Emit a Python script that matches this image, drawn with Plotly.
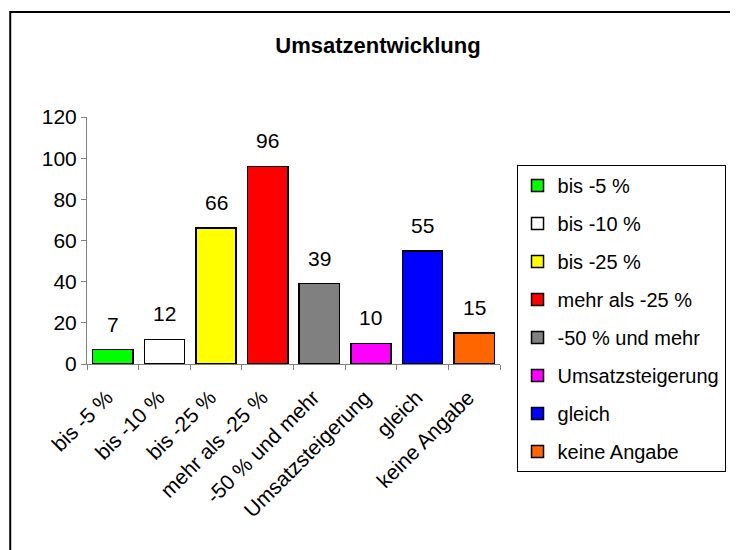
import plotly.graph_objects as go

# Kategorien und Werte (Umsatzentwicklung)
categories = ["bis -5 %", "bis -10 %", "bis -25 %", "mehr als -25 %",
              "-50 % und mehr", "Umsatzsteigerung", "gleich", "keine Angabe"]
values = [7, 12, 66, 96, 39, 10, 55, 15]
colors = ["#00FF00", "#FFFFFF", "#FFFF00", "#FF0000",
          "#808080", "#FF00FF", "#0000FF", "#FF6600"]
y_ticks = [0, 20, 40, 60, 80, 100, 120]

FONT = "Liberation Sans, Arial, sans-serif"

fig = go.Figure()
for i, (cat, val, col) in enumerate(zip(categories, values, colors)):
    fig.add_trace(go.Bar(
        x=[cat], y=[val], name=cat, legendgroup=f"g{i}",
        marker=dict(color=col, line=dict(color="black", width=1.5)),
    ))

# Datenbeschriftungen über den Balken
for cat, val in zip(categories, values):
    fig.add_annotation(x=cat, y=val, text=str(val), showarrow=False,
                       yanchor="bottom", yshift=12,
                       font=dict(size=21, color="black", family=FONT))

# Seite hat 8px Body-Rand -> Figur etwas kleiner, Koordinaten um 8 verschoben
OFF = 8
W, H = 738 - OFF, 550 - OFF
l, t = 87 - OFF, 117 - OFF
plot_right, plot_bottom = 512 - OFF, 364 - OFF
r, b = W - plot_right, H - plot_bottom
pw, ph = W - l - r, H - t - b


def px_x(x):
    return (x - OFF - l) / pw


def px_y(y):
    return (plot_bottom - (y - OFF)) / ph


# Rahmen um das Diagramm
fig.add_shape(type="rect", xref="paper", yref="paper",
              x0=px_x(8), x1=px_x(780), y0=px_y(600), y1=px_y(12),
              line=dict(color="black", width=2), fillcolor="rgba(0,0,0,0)",
              layer="below")

fig.update_layout(
    width=W, height=H,
    margin=dict(l=l, r=r, t=t, b=b),
    paper_bgcolor="white", plot_bgcolor="white",
    font=dict(family=FONT, size=21, color="black"),
    title=dict(text="<b>Umsatzentwicklung</b>", x=(378 - OFF) / W,
               xanchor="center", y=1 - (45 - OFF) / H, yanchor="middle",
               font=dict(size=22, family=FONT, color="black")),
    barmode="stack", bargap=0.22,
    showlegend=True,
    legend=dict(x=px_x(529), xanchor="left", y=px_y(165), yanchor="top",
                bordercolor="black", borderwidth=1, bgcolor="white",
                tracegroupgap=9, traceorder="grouped", maxheight=500,
                font=dict(size=20, family=FONT), itemwidth=30),
    xaxis=dict(showline=True, linecolor="#808080", linewidth=1,
               ticks="outside", tickson="boundaries", ticklen=5,
               tickcolor="#808080", tickangle=-45, showgrid=False,
               ticklabelstandoff=12, ticklabelshift=-6,
               tickfont=dict(size=21)),
    yaxis=dict(range=[0, 120], tickvals=y_ticks, showline=True,
               linecolor="#808080", linewidth=1, ticks="outside", ticklen=5,
               tickcolor="#808080", showgrid=False, zeroline=False,
               tickfont=dict(size=21)),
)

fig.write_html("out.html")
